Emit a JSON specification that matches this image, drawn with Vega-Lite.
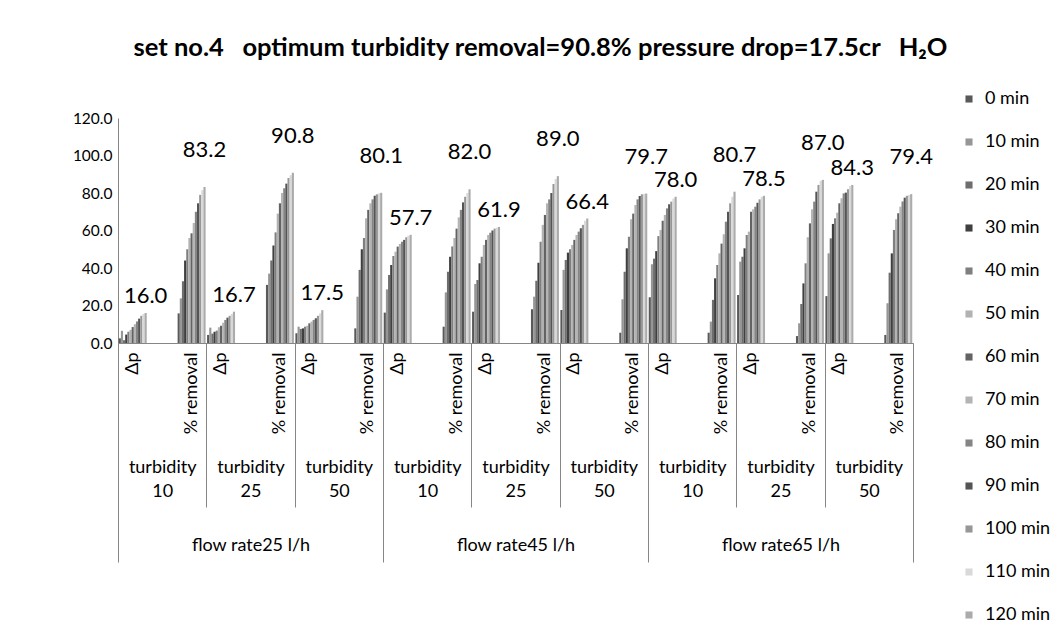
{
"$schema":"https://vega.github.io/schema/vega-lite/v6.json",
"width":795,"height":225,
"autosize":{"type":"none"},
"padding":{"left":118,"top":118,"right":147,"bottom":298},
"background":"white",
"config":{"font":"Lato","view":{"stroke":null},"axisY":{"labelOverlap":false,"labelFontSize":15.5,"ticks":false,"grid":false,"domainColor":"#868686","labelColor":"black","labelPadding":6}},
"title":{"text":"set no.4\u00a0\u00a0 optimum turbidity removal=90.8% pressure drop=17.5cr\u00a0\u00a0 H₂O","fontSize":25.5,"fontWeight":"bold","anchor":"middle","offset":29,"dx":25,"color":"black","font":"Lato"},
"layer":[
{"data":{"values":[
{"c":"25|10|a","m":"0 min","v":2.5},{"c":"25|10|a","m":"10 min","v":6.5},{"c":"25|10|a","m":"20 min","v":1.5},{"c":"25|10|a","m":"30 min","v":4.5},{"c":"25|10|a","m":"40 min","v":6.0},{"c":"25|10|a","m":"50 min","v":7.0},{"c":"25|10|a","m":"60 min","v":8.5},{"c":"25|10|a","m":"70 min","v":10.0},{"c":"25|10|a","m":"80 min","v":11.5},{"c":"25|10|a","m":"90 min","v":13.0},{"c":"25|10|a","m":"100 min","v":14.5},{"c":"25|10|a","m":"110 min","v":15.5},{"c":"25|10|a","m":"120 min","v":16.0},
{"c":"25|10|c","m":"0 min","v":15.8},{"c":"25|10|c","m":"10 min","v":23.8},{"c":"25|10|c","m":"20 min","v":33.0},{"c":"25|10|c","m":"30 min","v":44.0},{"c":"25|10|c","m":"40 min","v":50.0},{"c":"25|10|c","m":"50 min","v":56.0},{"c":"25|10|c","m":"60 min","v":58.5},{"c":"25|10|c","m":"70 min","v":64.0},{"c":"25|10|c","m":"80 min","v":70.0},{"c":"25|10|c","m":"90 min","v":74.5},{"c":"25|10|c","m":"100 min","v":79.0},{"c":"25|10|c","m":"110 min","v":81.5},{"c":"25|10|c","m":"120 min","v":83.2},
{"c":"25|25|a","m":"0 min","v":4.3},{"c":"25|25|a","m":"10 min","v":8.2},{"c":"25|25|a","m":"20 min","v":5.0},{"c":"25|25|a","m":"30 min","v":6.0},{"c":"25|25|a","m":"40 min","v":6.6},{"c":"25|25|a","m":"50 min","v":8.4},{"c":"25|25|a","m":"60 min","v":9.2},{"c":"25|25|a","m":"70 min","v":10.8},{"c":"25|25|a","m":"80 min","v":12.3},{"c":"25|25|a","m":"90 min","v":13.5},{"c":"25|25|a","m":"100 min","v":14.5},{"c":"25|25|a","m":"110 min","v":15.5},{"c":"25|25|a","m":"120 min","v":16.7},
{"c":"25|25|c","m":"0 min","v":31.0},{"c":"25|25|c","m":"10 min","v":37.0},{"c":"25|25|c","m":"20 min","v":44.0},{"c":"25|25|c","m":"30 min","v":52.0},{"c":"25|25|c","m":"40 min","v":59.0},{"c":"25|25|c","m":"50 min","v":69.0},{"c":"25|25|c","m":"60 min","v":74.5},{"c":"25|25|c","m":"70 min","v":80.0},{"c":"25|25|c","m":"80 min","v":82.5},{"c":"25|25|c","m":"90 min","v":85.0},{"c":"25|25|c","m":"100 min","v":88.0},{"c":"25|25|c","m":"110 min","v":89.5},{"c":"25|25|c","m":"120 min","v":90.8},
{"c":"25|50|a","m":"0 min","v":5.2},{"c":"25|50|a","m":"10 min","v":8.7},{"c":"25|50|a","m":"20 min","v":7.5},{"c":"25|50|a","m":"30 min","v":7.8},{"c":"25|50|a","m":"40 min","v":8.7},{"c":"25|50|a","m":"50 min","v":9.2},{"c":"25|50|a","m":"60 min","v":10.5},{"c":"25|50|a","m":"70 min","v":11.4},{"c":"25|50|a","m":"80 min","v":12.3},{"c":"25|50|a","m":"90 min","v":13.2},{"c":"25|50|a","m":"100 min","v":14.5},{"c":"25|50|a","m":"110 min","v":15.8},{"c":"25|50|a","m":"120 min","v":17.5},
{"c":"25|50|c","m":"0 min","v":7.8},{"c":"25|50|c","m":"10 min","v":24.7},{"c":"25|50|c","m":"20 min","v":39.0},{"c":"25|50|c","m":"30 min","v":50.0},{"c":"25|50|c","m":"40 min","v":56.0},{"c":"25|50|c","m":"50 min","v":66.5},{"c":"25|50|c","m":"60 min","v":71.0},{"c":"25|50|c","m":"70 min","v":74.5},{"c":"25|50|c","m":"80 min","v":76.6},{"c":"25|50|c","m":"90 min","v":78.5},{"c":"25|50|c","m":"100 min","v":79.3},{"c":"25|50|c","m":"110 min","v":79.8},{"c":"25|50|c","m":"120 min","v":80.1},
{"c":"45|10|a","m":"0 min","v":16.2},{"c":"45|10|a","m":"10 min","v":28.6},{"c":"45|10|a","m":"20 min","v":36.3},{"c":"45|10|a","m":"30 min","v":41.6},{"c":"45|10|a","m":"40 min","v":46.4},{"c":"45|10|a","m":"50 min","v":48.7},{"c":"45|10|a","m":"60 min","v":51.4},{"c":"45|10|a","m":"70 min","v":52.8},{"c":"45|10|a","m":"80 min","v":54.0},{"c":"45|10|a","m":"90 min","v":55.0},{"c":"45|10|a","m":"100 min","v":56.4},{"c":"45|10|a","m":"110 min","v":57.2},{"c":"45|10|a","m":"120 min","v":57.7},
{"c":"45|10|c","m":"0 min","v":8.7},{"c":"45|10|c","m":"10 min","v":27.0},{"c":"45|10|c","m":"20 min","v":38.0},{"c":"45|10|c","m":"30 min","v":46.0},{"c":"45|10|c","m":"40 min","v":51.5},{"c":"45|10|c","m":"50 min","v":56.0},{"c":"45|10|c","m":"60 min","v":61.0},{"c":"45|10|c","m":"70 min","v":67.0},{"c":"45|10|c","m":"80 min","v":71.0},{"c":"45|10|c","m":"90 min","v":75.0},{"c":"45|10|c","m":"100 min","v":78.0},{"c":"45|10|c","m":"110 min","v":80.0},{"c":"45|10|c","m":"120 min","v":82.0},
{"c":"45|25|a","m":"0 min","v":16.7},{"c":"45|25|a","m":"10 min","v":31.5},{"c":"45|25|a","m":"20 min","v":33.6},{"c":"45|25|a","m":"30 min","v":42.5},{"c":"45|25|a","m":"40 min","v":46.0},{"c":"45|25|a","m":"50 min","v":52.3},{"c":"45|25|a","m":"60 min","v":55.0},{"c":"45|25|a","m":"70 min","v":57.6},{"c":"45|25|a","m":"80 min","v":58.8},{"c":"45|25|a","m":"90 min","v":60.0},{"c":"45|25|a","m":"100 min","v":61.0},{"c":"45|25|a","m":"110 min","v":61.5},{"c":"45|25|a","m":"120 min","v":61.9},
{"c":"45|25|c","m":"0 min","v":18.0},{"c":"45|25|c","m":"10 min","v":24.7},{"c":"45|25|c","m":"20 min","v":33.2},{"c":"45|25|c","m":"30 min","v":42.8},{"c":"45|25|c","m":"40 min","v":54.0},{"c":"45|25|c","m":"50 min","v":63.0},{"c":"45|25|c","m":"60 min","v":68.3},{"c":"45|25|c","m":"70 min","v":74.5},{"c":"45|25|c","m":"80 min","v":76.6},{"c":"45|25|c","m":"90 min","v":80.0},{"c":"45|25|c","m":"100 min","v":84.8},{"c":"45|25|c","m":"110 min","v":87.5},{"c":"45|25|c","m":"120 min","v":89.0},
{"c":"45|50|a","m":"0 min","v":17.6},{"c":"45|50|a","m":"10 min","v":39.0},{"c":"45|50|a","m":"20 min","v":44.3},{"c":"45|50|a","m":"30 min","v":48.2},{"c":"45|50|a","m":"40 min","v":50.0},{"c":"45|50|a","m":"50 min","v":52.3},{"c":"45|50|a","m":"60 min","v":55.0},{"c":"45|50|a","m":"70 min","v":57.6},{"c":"45|50|a","m":"80 min","v":59.4},{"c":"45|50|a","m":"90 min","v":61.2},{"c":"45|50|a","m":"100 min","v":63.0},{"c":"45|50|a","m":"110 min","v":65.2},{"c":"45|50|a","m":"120 min","v":66.4},
{"c":"45|50|c","m":"0 min","v":5.5},{"c":"45|50|c","m":"10 min","v":23.3},{"c":"45|50|c","m":"20 min","v":38.0},{"c":"45|50|c","m":"30 min","v":50.5},{"c":"45|50|c","m":"40 min","v":56.7},{"c":"45|50|c","m":"50 min","v":66.0},{"c":"45|50|c","m":"60 min","v":69.0},{"c":"45|50|c","m":"70 min","v":73.6},{"c":"45|50|c","m":"80 min","v":76.6},{"c":"45|50|c","m":"90 min","v":78.4},{"c":"45|50|c","m":"100 min","v":79.3},{"c":"45|50|c","m":"110 min","v":79.6},{"c":"45|50|c","m":"120 min","v":79.7},
{"c":"65|10|a","m":"0 min","v":24.4},{"c":"65|10|a","m":"10 min","v":42.0},{"c":"65|10|a","m":"20 min","v":45.0},{"c":"65|10|a","m":"30 min","v":49.0},{"c":"65|10|a","m":"40 min","v":57.0},{"c":"65|10|a","m":"50 min","v":60.3},{"c":"65|10|a","m":"60 min","v":65.2},{"c":"65|10|a","m":"70 min","v":68.3},{"c":"65|10|a","m":"80 min","v":71.8},{"c":"65|10|a","m":"90 min","v":74.0},{"c":"65|10|a","m":"100 min","v":75.4},{"c":"65|10|a","m":"110 min","v":77.0},{"c":"65|10|a","m":"120 min","v":78.0},
{"c":"65|10|c","m":"0 min","v":5.5},{"c":"65|10|c","m":"10 min","v":11.4},{"c":"65|10|c","m":"20 min","v":23.0},{"c":"65|10|c","m":"30 min","v":34.5},{"c":"65|10|c","m":"40 min","v":41.6},{"c":"65|10|c","m":"50 min","v":47.8},{"c":"65|10|c","m":"60 min","v":53.0},{"c":"65|10|c","m":"70 min","v":58.0},{"c":"65|10|c","m":"80 min","v":64.7},{"c":"65|10|c","m":"90 min","v":70.0},{"c":"65|10|c","m":"100 min","v":74.5},{"c":"65|10|c","m":"110 min","v":78.0},{"c":"65|10|c","m":"120 min","v":80.7},
{"c":"65|25|a","m":"0 min","v":25.6},{"c":"65|25|a","m":"10 min","v":43.4},{"c":"65|25|a","m":"20 min","v":46.0},{"c":"65|25|a","m":"30 min","v":50.5},{"c":"65|25|a","m":"40 min","v":57.6},{"c":"65|25|a","m":"50 min","v":59.4},{"c":"65|25|a","m":"60 min","v":70.0},{"c":"65|25|a","m":"70 min","v":71.3},{"c":"65|25|a","m":"80 min","v":72.7},{"c":"65|25|a","m":"90 min","v":74.8},{"c":"65|25|a","m":"100 min","v":76.6},{"c":"65|25|a","m":"110 min","v":78.0},{"c":"65|25|a","m":"120 min","v":78.5},
{"c":"65|25|c","m":"0 min","v":3.7},{"c":"65|25|c","m":"10 min","v":10.5},{"c":"65|25|c","m":"20 min","v":20.8},{"c":"65|25|c","m":"30 min","v":31.8},{"c":"65|25|c","m":"40 min","v":42.5},{"c":"65|25|c","m":"50 min","v":56.4},{"c":"65|25|c","m":"60 min","v":63.8},{"c":"65|25|c","m":"70 min","v":71.3},{"c":"65|25|c","m":"80 min","v":75.4},{"c":"65|25|c","m":"90 min","v":80.7},{"c":"65|25|c","m":"100 min","v":84.3},{"c":"65|25|c","m":"110 min","v":86.5},{"c":"65|25|c","m":"120 min","v":87.0},
{"c":"65|50|a","m":"0 min","v":25.0},{"c":"65|50|a","m":"10 min","v":47.8},{"c":"65|50|a","m":"20 min","v":55.8},{"c":"65|50|a","m":"30 min","v":63.5},{"c":"65|50|a","m":"40 min","v":66.5},{"c":"65|50|a","m":"50 min","v":69.5},{"c":"65|50|a","m":"60 min","v":74.5},{"c":"65|50|a","m":"70 min","v":77.2},{"c":"65|50|a","m":"80 min","v":79.8},{"c":"65|50|a","m":"90 min","v":80.2},{"c":"65|50|a","m":"100 min","v":82.0},{"c":"65|50|a","m":"110 min","v":83.7},{"c":"65|50|a","m":"120 min","v":84.3},
{"c":"65|50|c","m":"0 min","v":4.3},{"c":"65|50|c","m":"10 min","v":21.2},{"c":"65|50|c","m":"20 min","v":37.5},{"c":"65|50|c","m":"30 min","v":47.8},{"c":"65|50|c","m":"40 min","v":60.3},{"c":"65|50|c","m":"50 min","v":66.0},{"c":"65|50|c","m":"60 min","v":69.2},{"c":"65|50|c","m":"70 min","v":72.7},{"c":"65|50|c","m":"80 min","v":75.5},{"c":"65|50|c","m":"90 min","v":77.5},{"c":"65|50|c","m":"100 min","v":78.5},{"c":"65|50|c","m":"110 min","v":79.0},{"c":"65|50|c","m":"120 min","v":79.4}
]},
"layer":[
{"mark":{"type":"bar"},
"encoding":{
"x":{"field":"c","type":"nominal","scale":{"domain":["25|10|a","25|10|b","25|10|c","25|25|a","25|25|b","25|25|c","25|50|a","25|50|b","25|50|c","45|10|a","45|10|b","45|10|c","45|25|a","45|25|b","45|25|c","45|50|a","45|50|b","45|50|c","65|10|a","65|10|b","65|10|c","65|25|a","65|25|b","65|25|c","65|50|a","65|50|b","65|50|c"],"paddingInner":0.05,"paddingOuter":0.025},
"axis":{"title":null,"orient":"bottom","labelExpr":"split(datum.value,'|')[2]=='a' ? 'Δp' : (split(datum.value,'|')[2]=='c' ? '% removal' : '')","labelAngle":-90,"labelFontSize":18,"labelPadding":9,"ticks":false,"domainColor":"#868686","labelColor":"black","labelOverlap":false}},
"xOffset":{"field":"m","type":"nominal","sort":["0 min","10 min","20 min","30 min","40 min","50 min","60 min","70 min","80 min","90 min","100 min","110 min","120 min"],"scale":{"paddingInner":0,"paddingOuter":0}},
"y":{"field":"v","type":"quantitative","scale":{"domain":[0,120]},"axis":{"title":null,"values":[0,20,40,60,80,100,120],"format":".1f"}},
"color":{"field":"m","type":"nominal","scale":{"domain":["0 min","10 min","20 min","30 min","40 min","50 min","60 min","70 min","80 min","90 min","100 min","110 min","120 min"],"range":["#595959","#969696","#6e6e6e","#3f3f3f","#7f7f7f","#b2b2b2","#636363","#b4b4b4","#858585","#545454","#979797","#d9d9d9","#ababab"]},
"legend":{"title":null,"orient":"none","legendX":842,"legendY":-28,"symbolType":"square","symbolSize":50,"symbolStrokeWidth":0,"labelFontSize":18,"rowPadding":25,"labelColor":"black","padding":0,"labelOffset":7}}
}},
{"transform":[{"filter":{"field":"m","equal":"120 min"}},{"filter":"split(datum.c,'|')[2]=='a'"}],
"mark":{"type":"text","dy":-17,"fontSize":22,"color":"black"},
"encoding":{
"x":{"field":"c","type":"nominal"},
"xOffset":{"field":"m","type":"nominal","sort":["0 min","10 min","20 min","30 min","40 min","50 min","60 min","70 min","80 min","90 min","100 min","110 min","120 min"]},
"y":{"field":"v","type":"quantitative","axis":{"title":null,"values":[0,20,40,60,80,100,120],"format":".1f"}},
"text":{"field":"v","type":"quantitative","format":".1f"}
}},
{"transform":[{"filter":{"field":"m","equal":"120 min"}},{"filter":"split(datum.c,'|')[2]=='c'"}],
"mark":{"type":"text","dy":-37,"fontSize":22,"color":"black"},
"encoding":{
"x":{"field":"c","type":"nominal"},
"xOffset":{"field":"m","type":"nominal","sort":["0 min","10 min","20 min","30 min","40 min","50 min","60 min","70 min","80 min","90 min","100 min","110 min","120 min"]},
"y":{"field":"v","type":"quantitative","axis":{"title":null,"values":[0,20,40,60,80,100,120],"format":".1f"}},
"text":{"field":"v","type":"quantitative","format":".1f"}
}}
]},
{"data":{"values":[{"g":"25|10"},{"g":"25|25"},{"g":"25|50"},{"g":"45|10"},{"g":"45|25"},{"g":"45|50"},{"g":"65|10"},{"g":"65|25"},{"g":"65|50"}]},
"mark":{"type":"text"},
"encoding":{
"x":{"field":"g","type":"nominal","scale":{"domain":["25|10","25|25","25|50","45|10","45|25","45|50","65|10","65|25","65|50"],"paddingInner":0,"paddingOuter":0},
"axis":{"title":null,"orient":"bottom","domain":false,"ticks":true,"tickBand":"extent","tickSize":164,"tickColor":"#868686","labelExpr":"datum.value == null ? '' : ['turbidity', split(datum.value,'|')[1]]","labelFontSize":18,"labelLineHeight":24,"labelPadding":-49,"labelAngle":0,"labelColor":"black","labelOverlap":false,"labelBaseline":"top"}},
"text":{"value":""}
}},
{"data":{"values":[{"f":"25"},{"f":"45"},{"f":"65"}]},
"mark":{"type":"text"},
"encoding":{
"x":{"field":"f","type":"nominal","scale":{"domain":["25","45","65"],"paddingInner":0,"paddingOuter":0},
"axis":{"title":null,"orient":"bottom","domain":false,"ticks":true,"tickBand":"extent","tickSize":219,"tickColor":"#868686","labelExpr":"datum.value == null ? '' : 'flow rate' + datum.value + ' l/h'","labelFontSize":18,"labelPadding":-26,"labelAngle":0,"labelColor":"black","labelOverlap":false,"labelBaseline":"top"}},
"text":{"value":""}
}}
],
"resolve":{"scale":{"x":"independent"},"axis":{"x":"independent"}}
}
